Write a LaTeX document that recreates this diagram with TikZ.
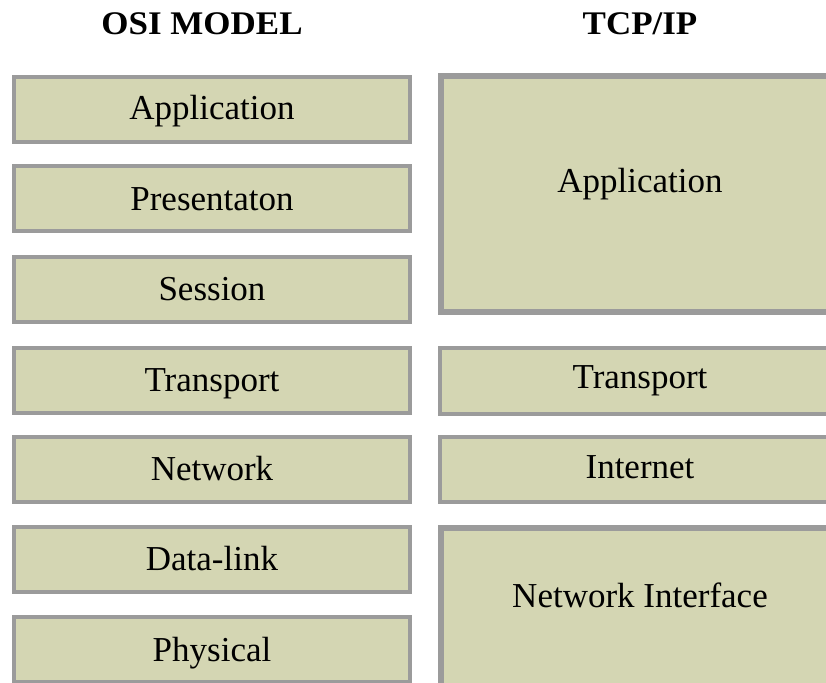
\documentclass[tikz,border=0pt]{standalone}
\usepackage{fontspec}
\setmainfont{Liberation Serif}
\definecolor{layerfill}{RGB}{212,214,179}
\definecolor{layeredge}{RGB}{155,155,155}
\newcommand{\widehead}[1]{\scalebox{1.06}[1]{#1}}
\tikzset{
  layer/.style={draw=layeredge, fill=layerfill, line width=4pt, inner sep=0pt, outer sep=0pt},
  widelayer/.style={layer, line width=6pt},
  layertext/.style={anchor=base, inner sep=0pt, font=\fontsize{35}{40}\selectfont},
  heading/.style={anchor=base, inner sep=0pt, font=\fontsize{33}{38}\selectfont\bfseries},
}
\begin{document}
\begin{tikzpicture}[x=1pt,y=-1pt]
\useasboundingbox (0,0) rectangle (826,682);
\clip (0,0) rectangle (826,682);

% headings
\node[heading] (osi) at (202,35) {\widehead{OSI MODEL}};
\node[heading] (tcp) at (640,35) {\widehead{TCP/IP}};

% OSI stack: seven boxes, 396 x 65 between the stroke centres
\foreach \name/\top in {oapp/75, opres/164, osess/255, otrans/346, onet/435, odl/525, ophys/615}
  \node[layer, minimum width=396pt, minimum height=65pt] (\name) at (212,\top+34.5) {};

\node[layertext] (oapp-t)   at (212,120) {Application};
\node[layertext] (opres-t)  at (212,210) {Presentaton};
\node[layertext] (osess-t)  at (212,300) {Session};
\node[layertext] (otrans-t) at (212,391) {Transport};
\node[layertext] (onet-t)   at (212,480) {Network};
\node[layertext] (odl-t)    at (212,570) {Data-link};
\node[layertext] (ophys-t)  at (212,661) {Physical};

% TCP/IP stack: runs past the right edge of the page
\node[widelayer, minimum width=398pt, minimum height=236pt] (tapp) at (640,194) {};
\node[layer, minimum width=400pt, minimum height=66pt] (ttrans) at (640,381) {};
\node[layer, minimum width=400pt, minimum height=65pt] (tint) at (640,469.5) {};
\node[widelayer, minimum width=398pt, minimum height=200pt] (tni) at (640,628) {};

\node[layertext] (tapp-t)   at (640,192) {Application};
\node[layertext] (ttrans-t) at (640,388) {Transport};
\node[layertext] (tint-t)   at (640,478) {Internet};
\node[layertext] (tni-t)    at (640,607) {Network Interface};
\end{tikzpicture}
\end{document}
